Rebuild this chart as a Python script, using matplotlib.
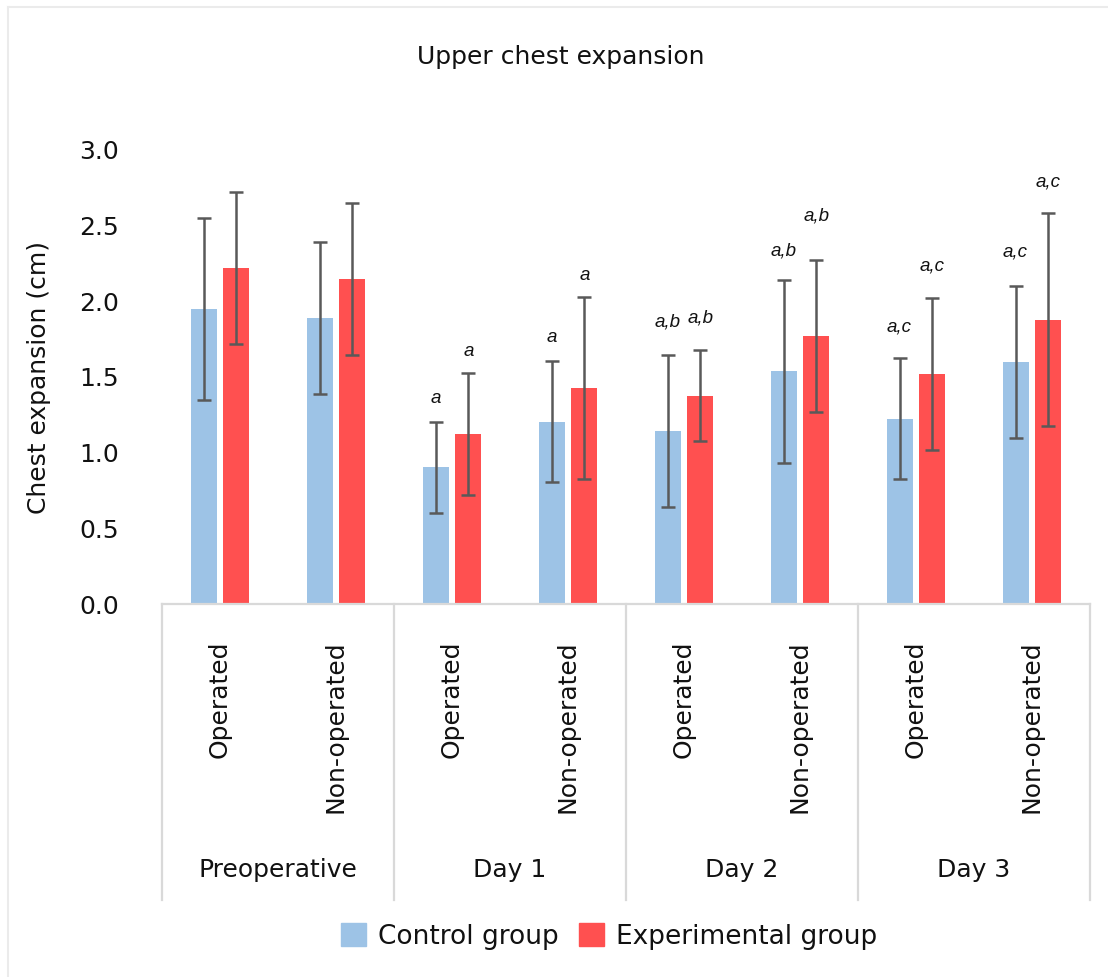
import numpy as np
import matplotlib
matplotlib.use("Agg")
import matplotlib.pyplot as plt
from matplotlib.patches import Patch
from matplotlib.lines import Line2D

plt.rcParams.update({"font.family": ["DejaVu Sans"],
                     "text.color": "#111111", "axes.labelcolor": "#111111",
                     "xtick.color": "#111111", "ytick.color": "#111111"})

# ---- data ----
groups = ["Preoperative", "Day 1", "Day 2", "Day 3"]
sides = ["Operated", "Non-operated"]
control_mean = [1.94, 1.88, 0.90, 1.20, 1.14, 1.53, 1.22, 1.59]
control_sd = [0.60, 0.50, 0.30, 0.40, 0.50, 0.60, 0.40, 0.50]
exp_mean = [2.21, 2.14, 1.12, 1.42, 1.37, 1.76, 1.51, 1.87]
exp_sd = [0.50, 0.50, 0.40, 0.60, 0.30, 0.50, 0.50, 0.70]
control_sig = ["", "", "a", "a", "a,b", "a,b", "a,c", "a,c"]
exp_sig = ["", "", "a", "a", "a,b", "a,b", "a,c", "a,c"]
# gap between whisker top and the significance letters (cm)
control_sig_gap = [0, 0, 0.16, 0.16, 0.22, 0.20, 0.21, 0.23]
exp_sig_gap = [0, 0, 0.15, 0.15, 0.22, 0.30, 0.22, 0.21]

BLUE = "#9DC3E6"
RED = "#FF5050"
ERR = "#595959"
GRID = "#D9D9D9"
FS = 18

W, H = 1108, 978
fig = plt.figure(figsize=(W / 100, H / 100), dpi=100)
ax = fig.add_axes([162 / W, (H - 605) / H, 928 / W, 456 / H])

n = len(control_mean)
x = np.arange(n)
bw = 0.224
off = 0.142
err_kw = dict(ecolor=ERR, elinewidth=1.8, capsize=4.7, capthick=1.8)
ax.bar(x - off, control_mean, bw, color=BLUE, yerr=control_sd,
       error_kw=err_kw, zorder=2)
ax.bar(x + off, exp_mean, bw, color=RED, yerr=exp_sd,
       error_kw=err_kw, zorder=2)

for xs, m, s, labs, gaps in [(x - off, control_mean, control_sd, control_sig, control_sig_gap),
                             (x + off, exp_mean, exp_sd, exp_sig, exp_sig_gap)]:
    for xi, mi, si, lab, g in zip(xs, m, s, labs, gaps):
        if lab:
            ax.text(xi, mi + si + g, lab, ha="center", va="center",
                    fontsize=13.5, style="italic", family="Liberation Sans")

ax.set_xlim(-0.5, n - 0.5)
ax.set_ylim(0, 3.0)
ax.set_yticks(np.arange(0, 3.01, 0.5))
ax.set_yticklabels([f"{v:.1f}" for v in np.arange(0, 3.01, 0.5)], fontsize=FS)
ax.tick_params(axis="y", length=0, pad=31)
ax.set_xticks([])
for sp in ax.spines.values():
    sp.set_visible(False)
ax.set_ylabel("Chest expansion (cm)", fontsize=FS)
ax.yaxis.set_label_coords(-0.12, 0.5)

# multi-level category axis
tr = ax.get_xaxis_transform()
ax.add_line(Line2D([-0.5, n - 0.5], [0, 0], transform=tr, color=GRID,
                   lw=1.6, clip_on=False))
sep_bottom = (605 - 901) / 456
for b in np.arange(-0.5, n, 2):
    ax.add_line(Line2D([b, b], [0, sep_bottom], transform=tr, color=GRID,
                       lw=1.6, clip_on=False))
for i in range(n):
    ax.text(i, (605 - 640) / 456, sides[i % 2], transform=tr, rotation=90,
            ha="center", va="top", fontsize=FS)
for j, g in enumerate(groups):
    ax.text(2 * j + 0.5, (605 - 870) / 456, g, transform=tr,
            ha="center", va="center", fontsize=FS)

fig.text(561 / W, 1 - 57 / H, "Upper chest expansion", ha="center",
         va="center", fontsize=FS)

handles = [Patch(color=BLUE, label="Control group"),
           Patch(color=RED, label="Experimental group")]
fig.legend(handles=handles, loc="center", bbox_to_anchor=(609 / W, 1 - 937 / H),
           ncol=2, frameon=False, fontsize=19, handlelength=0.95,
           handleheight=0.95, handletextpad=0.45, columnspacing=0.75)

# light frame along the top and left edges
fig.add_artist(Line2D([8 / W, 8 / W], [0, 1 - 8 / H], transform=fig.transFigure,
                      color="#EBEBEB", lw=1.5))
fig.add_artist(Line2D([8 / W, 1], [1 - 8 / H, 1 - 8 / H], transform=fig.transFigure,
                      color="#EBEBEB", lw=1.5))

fig.savefig("out.png", dpi=100)
